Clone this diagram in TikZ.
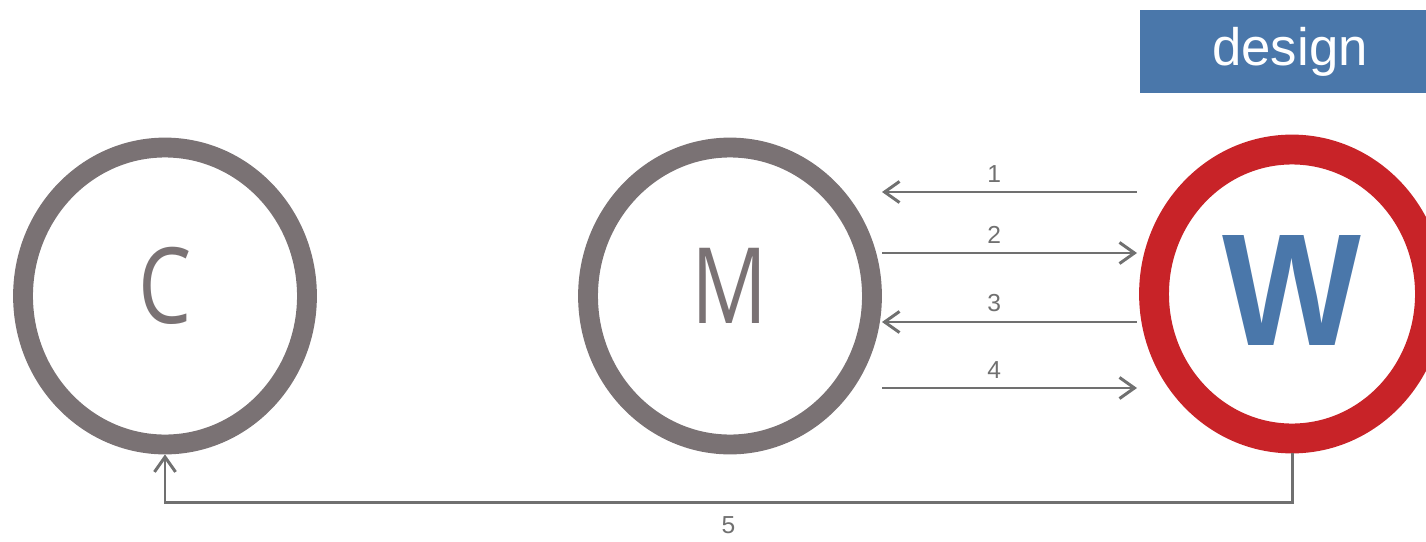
\documentclass[tikz,border=0pt]{standalone}
\usepackage{fontspec}
\setmainfont{Liberation Sans}
\newfontfamily\letterfont{Open Sans}
\usetikzlibrary{arrows.meta,shapes.geometric}
\definecolor{ringgray}{RGB}{122,114,116}
\definecolor{ringred}{RGB}{200,35,40}
\definecolor{wblue}{RGB}{74,119,170}
\definecolor{arrgray}{RGB}{112,112,112}
\tikzset{
  ring/.style={ellipse, draw=ringgray, line width=11.3pt, minimum width=5.68cm,
    minimum height=5.94cm, inner sep=0pt, text=ringgray,
    font=\letterfont\fontsize{60}{60}\selectfont},
  wring/.style={ellipse, draw=ringred, line width=17pt, minimum width=5.52cm,
    minimum height=5.78cm, inner sep=0pt, text=wblue,
    font=\bfseries\fontsize{91}{91}\selectfont},
  tagbox/.style={fill=wblue, text=white, minimum width=6cm, minimum height=1.66cm,
    inner sep=0pt, font=\fontsize{30}{30}\selectfont},
  flow/.style={draw=arrgray, line width=1.7pt},
  num/.style={font=\fontsize{14}{14}\selectfont, text=arrgray},
  >={Straight Barb[length=8.5pt,width=12pt]}
}
\newcommand{\ringletter}[1]{\raisebox{12pt}{\scalebox{0.8}[1]{#1}}}
\begin{document}
\begin{tikzpicture}[x=0.02cm, y=-0.02cm]
\useasboundingbox (0,0) rectangle (1426,541);
% the three rings
\node[ring] (C) at (165,296) {\ringletter{C}};
\node[ring] (M) at (730,296) {\ringletter{M}};
\node[wring] (W) at (1292,294) {\raisebox{4pt}{\scalebox{0.92}[1]{W}}};
\node[tagbox] (design) at (1290,51.5) {design};
% messages between M and W
\foreach \i/\y/\dir in {1/192/<-,2/253/->,3/322/<-,4/388/->}{
  \coordinate (ml\i) at (882,\y);
  \coordinate (wl\i) at (1137,\y);
  \draw[flow,\dir] (ml\i) -- node[num,above=1.5pt,pos=0.44] {\i} (wl\i);
}
% back to C
\draw[flow,->] (W.south) -- ++(0,49) -| node[num,pos=0.25,below=4pt] {5} (C.south);
\end{tikzpicture}
\end{document}
